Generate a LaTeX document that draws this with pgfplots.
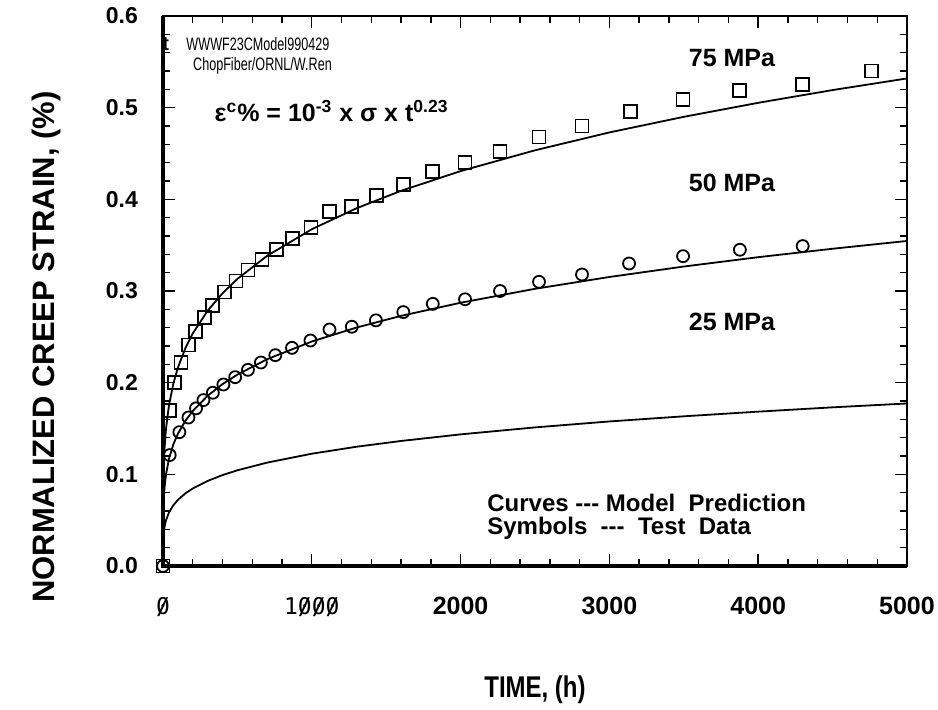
\documentclass[border=0pt]{standalone}
\usepackage{fontspec}
\setmainfont{Liberation Sans}
\newfontfamily\monof{DejaVu Sans Mono}
\newfontfamily\condf[FakeStretch=0.8]{Liberation Sans}
\newfontfamily\smallcondf[FakeStretch=0.7]{Liberation Sans}
\newcommand{\sz}{\ooalign{0\cr\hidewidth/\hidewidth\cr}}
\usepackage{pgfplots}
\pgfplotsset{compat=1.18}
\begin{document}
\begin{tikzpicture}
\useasboundingbox (0,0) rectangle (469pt,354.5pt);
\begin{axis}[
  at={(81.5pt,71.5pt)}, anchor=south west,
  width=372pt, height=275pt, scale only axis,
  xmin=0, xmax=5000, ymin=0, ymax=0.6,
  clip=false,
  xtick={0,1000,2000,3000,4000,5000},
  xticklabels={{\monof\mdseries\fontsize{11.5}{13}\selectfont\sz},{\monof\mdseries\fontsize{11.5}{13}\selectfont 1\sz\sz\sz},2000,3000,4000,5000},
  ytick={0,0.1,0.2,0.3,0.4,0.5,0.6},
  yticklabels={0.0,0.1,0.2,0.3,0.4,0.5,0.6},
  minor x tick num=4, minor y tick num=4,
  tick align=inside,
  major tick length=6pt, minor tick length=3.5pt,
  every tick/.style={black, line width=0.7pt},
  axis line style={line width=0.9pt},
  xticklabel style={font=\bfseries\fontsize{12.5}{14}\selectfont, yshift=-12pt},
  yticklabel style={font=\bfseries\fontsize{11.5}{13}\selectfont, xshift=-9pt},
  xlabel={TIME, (h)},
  ylabel={NORMALIZED CREEP STRAIN, (\%)},
  xlabel style={at={(axis description cs:0.5,-0.2255)}, anchor=center, font=\condf\bfseries\fontsize{15}{17}\selectfont},
  ylabel style={at={(axis description cs:-0.156,0.398)}, anchor=center, font=\bfseries\fontsize{15.5}{17}\selectfont},
]
% model curves
\addplot[black, line width=0.9pt, no marks] coordinates {
(0,0) (0.5,0.0213) (1,0.025) (2,0.0293) (5,0.0362) (10,0.0425) (20,0.0498) (40,0.0584) (70,0.0664) (100,0.0721) (150,0.0792) (200,0.0846) (300,0.0928) (400,0.0992) (500,0.1044) (700,0.1128) (1000,0.1225) (1300,0.1301) (1600,0.1364) (2000,0.1436) (2500,0.1512) (3000,0.1577) (3500,0.1633) (4000,0.1684) (4500,0.1731) (5000,0.1773)};
\addplot[black, line width=0.9pt, no marks] coordinates {
(0,0) (0.5,0.0426) (1,0.05) (2,0.0586) (5,0.0724) (10,0.0849) (20,0.0996) (40,0.1168) (70,0.1329) (100,0.1442) (150,0.1583) (200,0.1691) (300,0.1857) (400,0.1984) (500,0.2088) (700,0.2256) (1000,0.2449) (1300,0.2601) (1600,0.2729) (2000,0.2872) (2500,0.3024) (3000,0.3153) (3500,0.3267) (4000,0.3369) (4500,0.3461) (5000,0.3546)};
\addplot[black, line width=0.9pt, no marks] coordinates {
(0,0) (0.5,0.0639) (1,0.075) (2,0.088) (5,0.1086) (10,0.1274) (20,0.1494) (40,0.1752) (70,0.1993) (100,0.2163) (150,0.2375) (200,0.2537) (300,0.2785) (400,0.2975) (500,0.3132) (700,0.3384) (1000,0.3674) (1300,0.3902) (1600,0.4093) (2000,0.4308) (2500,0.4535) (3000,0.4730) (3500,0.4900) (4000,0.5053) (4500,0.5192) (5000,0.5319)};
% test data, 75 MPa
\addplot[only marks, mark=square, mark size=3.25pt, mark options={black, line width=0.9pt}] coordinates {
(0,0) (43,0.170) (77,0.200) (121,0.222) (171,0.241) (220,0.256) (279,0.271) (335,0.284) (413,0.299) (490,0.311) (571,0.323) (665,0.334) (761,0.345) (871,0.357) (995,0.369) (1121,0.387) (1269,0.392) (1433,0.404) (1615,0.416) (1811,0.430) (2030,0.440) (2265,0.452) (2527,0.468) (2816,0.480) (3142,0.496) (3495,0.509) (3877,0.519) (4299,0.525) (4764,0.540)};
% test data, 50 MPa
\addplot[only marks, mark=o, mark size=3pt, mark options={black, line width=0.9pt}] coordinates {
(0,0) (45,0.121) (110,0.146) (171,0.162) (222,0.172) (272,0.181) (335,0.189) (406,0.198) (485,0.206) (571,0.214) (658,0.222) (755,0.230) (867,0.238) (991,0.246) (1119,0.258) (1269,0.261) (1431,0.268) (1615,0.277) (1813,0.286) (2030,0.291) (2265,0.300) (2527,0.310) (2816,0.318) (3132,0.330) (3495,0.338) (3877,0.345) (4299,0.349)};
% heavier left and bottom axis lines
\draw[line width=1.6pt] (rel axis cs:0,1) -- (rel axis cs:0,0) -- (rel axis cs:1,0);
% annotations
\node[font=\bfseries\fontsize{12.5}{14}\selectfont] at (axis cs:3824,0.554) {75 MPa};
\node[font=\bfseries\fontsize{12.5}{14}\selectfont] at (axis cs:3824,0.418) {50 MPa};
\node[font=\bfseries\fontsize{12.5}{14}\selectfont] at (axis cs:3824,0.266) {25 MPa};
\node[anchor=west, inner sep=0pt, font=\bfseries\fontsize{12.5}{14}\selectfont] at (axis cs:345,0.496) {ε\textsuperscript{c}\% = 10\textsuperscript{-3} x σ x t\textsuperscript{0.23}};
\node[anchor=center, inner sep=0pt, font=\bfseries\fontsize{10}{11}\selectfont] at (axis cs:18,0.569) {t};
\node[anchor=west, inner sep=0pt, font=\smallcondf\fontsize{9}{10}\selectfont] at (axis cs:155,0.569) {WWWF23CModel990429};
\node[anchor=west, inner sep=0pt, font=\smallcondf\fontsize{9}{10}\selectfont] at (axis cs:200,0.546) {ChopFiber/ORNL/W.Ren};
\node[anchor=west, inner sep=0pt, font=\bfseries\fontsize{12}{14}\selectfont] at (axis cs:2177,0.0687) {Curves -{}-{}- Model\ \ Prediction};
\node[anchor=west, inner sep=0pt, font=\bfseries\fontsize{12}{14}\selectfont] at (axis cs:2177,0.0415) {Symbols\ \ -{}-{}-\ \ Test\ \ Data};
\end{axis}
\end{tikzpicture}
\end{document}
